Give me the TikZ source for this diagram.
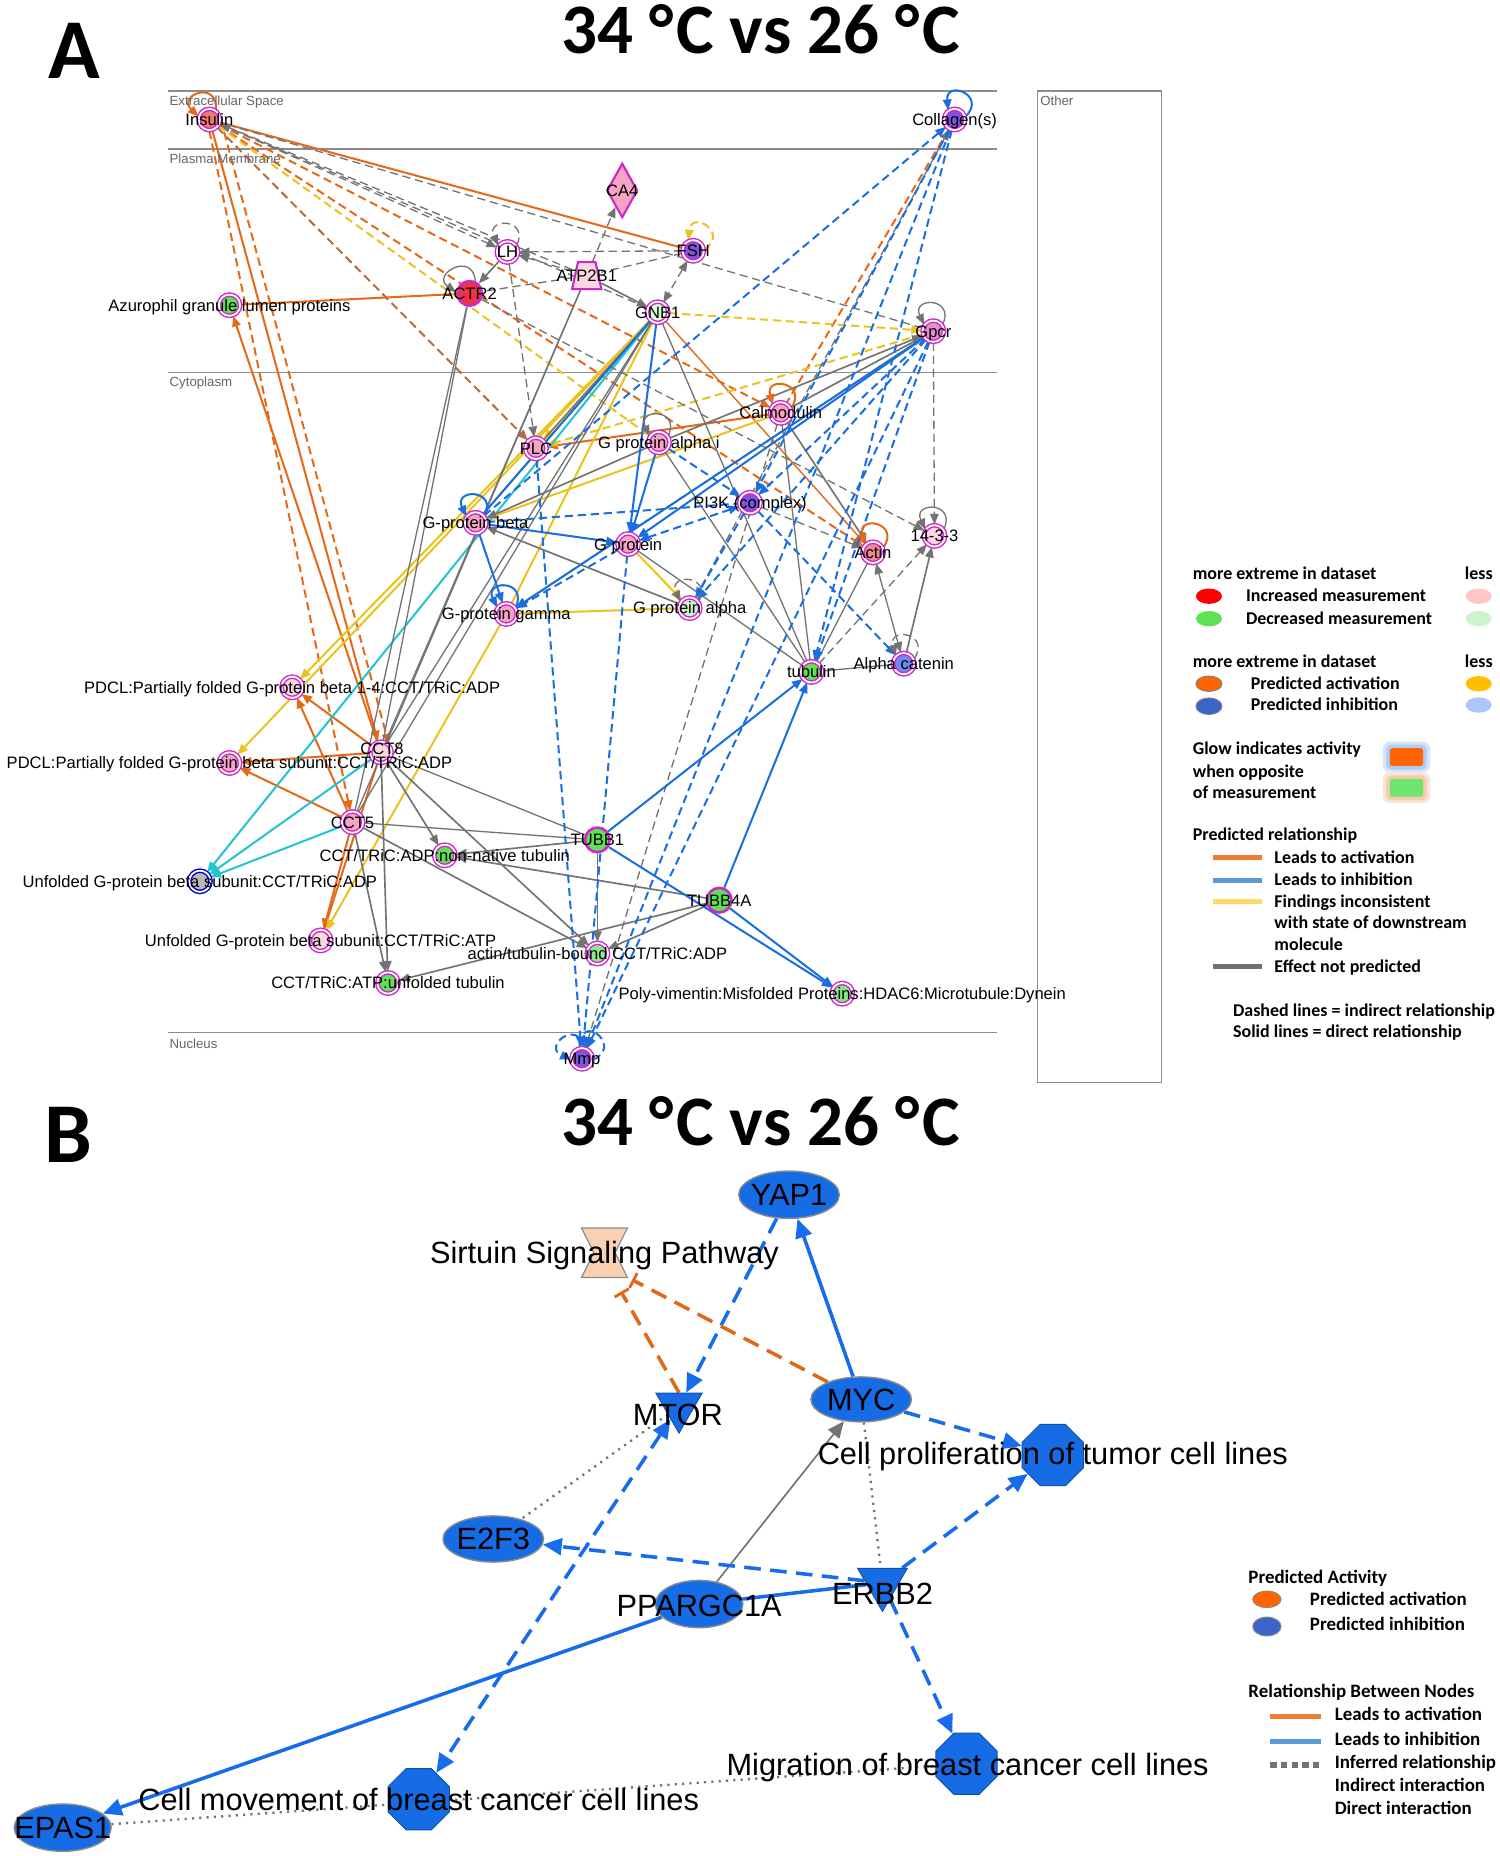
\documentclass[tikz,border=0pt]{standalone}
\usepackage{fontspec}
\setmainfont{Liberation Sans}
\newfontfamily\calfont{Carlito}
\usetikzlibrary{arrows.meta,shapes.geometric,calc}
\pgfdeclarelayer{bg}
\pgfdeclarelayer{edges}
\pgfsetlayers{bg,edges,main}
\definecolor{mag}{RGB}{205,40,200}
\definecolor{cor}{RGB}{230,105,25}
\definecolor{cbl}{RGB}{25,110,225}
\definecolor{cye}{RGB}{235,195,30}
\definecolor{cgr}{RGB}{115,115,115}
\definecolor{ccy}{RGB}{35,195,210}
\definecolor{fpink}{RGB}{245,165,195}
\definecolor{flpink}{RGB}{250,215,225}
\definecolor{fred}{RGB}{240,50,70}
\definecolor{fgreen}{RGB}{95,225,85}
\definecolor{flgreen}{RGB}{205,242,205}
\definecolor{fpurp}{RGB}{125,85,225}
\definecolor{fsalm}{RGB}{238,120,110}
\definecolor{fmagl}{RGB}{235,140,210}
\definecolor{fblue}{RGB}{110,140,240}
\definecolor{bfill}{RGB}{22,108,228}
\definecolor{bedge}{RGB}{22,108,235}
\definecolor{bor}{RGB}{222,105,25}
\definecolor{peach}{RGB}{250,208,178}
\definecolor{lgor}{RGB}{237,125,49}
\definecolor{lgbl}{RGB}{91,155,213}
\definecolor{lgye}{RGB}{255,217,102}
\definecolor{lggr}{RGB}{118,113,113}
\tikzset{
  gn/.style={circle, minimum size=9pt, inner sep=0pt, draw=mag, line width=0.6pt, double=white, double distance=0.75pt, fill=#1},
  gs/.style={circle, minimum size=10.4pt, inner sep=0pt, draw=mag, line width=1.1pt, fill=#1},
  lab/.style={font=\fontsize{7}{8}\selectfont, inner sep=0pt, text height=5pt, text depth=0pt},
  zone/.style={font=\fontsize{5.6}{6}\selectfont, text=black!60, anchor=west, inner sep=0pt, text height=4pt, text depth=0pt},
  ah/.style={-{Triangle[length=4.5pt,width=3.6pt]}},
  ahh/.style={{Triangle[length=4.5pt,width=3.6pt]}-{Triangle[length=4.5pt,width=3.6pt]}},
  dsh/.style={dash pattern=on 3.5pt off 2pt},
  eo/.style={draw=cor, line width=0.85pt},
  eb/.style={draw=cbl, line width=0.85pt},
  ey/.style={draw=cye, line width=0.85pt},
  eg/.style={draw=cgr, line width=0.55pt},
  ec/.style={draw=ccy, line width=0.85pt},
  frame/.style={draw=black!45, line width=0.6pt},
  bell/.style={ellipse, fill=bfill, draw=black!45, line width=0.6pt, inner sep=0pt},
  boct/.style={regular polygon, regular polygon sides=8, fill=bfill, draw=bfill!75!black, line width=0.4pt, minimum size=28pt, inner sep=0pt},
  btri/.style={regular polygon, regular polygon sides=3, shape border rotate=180, fill=bfill, draw=bfill!75!black, line width=0.4pt, inner sep=0pt},
  blab/.style={font=\fontsize{13}{14}\selectfont, inner sep=0pt, text height=9.3pt, text depth=0pt},
  bb/.style={draw=bedge, line width=1.5pt},
  bbd/.style={draw=bedge, line width=1.5pt, dash pattern=on 7pt off 4pt},
  bo/.style={draw=bor, line width=1.5pt, dash pattern=on 7pt off 4pt},
  bg/.style={draw=black!55, line width=0.7pt},
  bdot/.style={draw=black!55, line width=1pt, dash pattern=on 0.9pt off 2.2pt},
  btip/.style={-{Triangle[length=8pt,width=7pt]}},
  btipg/.style={-{Triangle[length=7pt,width=6pt]}},
  bboth/.style={{Triangle[length=8pt,width=7pt]}-{Triangle[length=8pt,width=7pt]}},
  bbar/.style={-{Bar[width=7pt,line width=1.2pt]}},
  lga/.style={font=\calfont\bfseries\fontsize{7.6}{9}\selectfont, anchor=west, inner sep=0pt, text height=4.9pt, text depth=0pt},
  lgb/.style={font=\calfont\bfseries\fontsize{8}{9}\selectfont, anchor=west, inner sep=0pt, text height=5.2pt, text depth=0pt},
  ttl/.style={font=\calfont\bfseries\fontsize{30}{33}\selectfont, inner sep=0pt, text height=19.5pt, text depth=0pt},
  plab/.style={font=\calfont\bfseries\fontsize{36}{40}\selectfont, inner sep=0pt, text height=23pt, text depth=0pt},
}
\newcommand\myloop[3]{%
  \pgfmathtruncatemacro\la{mod(#3-55+360,360)}\pgfmathtruncatemacro\lb{mod(#3+55,360)}%
  \pgfmathtruncatemacro\lc{#3-25}\pgfmathtruncatemacro\ld{#3+25}%
  \draw[#2] (#1.\la) .. controls +(\lc:13pt) and +(\ld:13pt) .. (#1.\lb);}
\newcommand\degc{°\kern1.2pt C}
\begin{document}
\begin{tikzpicture}[x=0.5pt,y=-0.5pt]
\begin{pgfonlayer}{bg}
\fill[white] (0,0) rectangle (1268,1569);
\end{pgfonlayer}
\useasboundingbox (0,0) rectangle (1268,1569);

% ---------------- titles
\node[plab] (pa) at (63,43) {A};
\node[ttl] (ta) at (643,26) {34 \degc{} vs 26 \degc};
\node[plab] (pb) at (58,960) {B};
\node[ttl] (tb) at (643,949) {34 \degc{} vs 26 \degc};

% ---------------- panel A nodes
\node[gn=fsalm] (ins) at (177,101) {};
\node[gn=fpurp] (col) at (807,101) {};
\node[diamond, draw=mag, line width=0.9pt, fill=fpink, minimum width=13pt, minimum height=23pt, inner sep=0pt] (ca4) at (526,161) {};
\node[gn=fpurp] (fsh) at (586,212) {};
\node[gn=white] (lh) at (429,213) {};
\node[minimum width=12pt, minimum height=11pt, inner sep=0pt] (atp) at (496,233) {};
\filldraw[draw=mag, line width=0.9pt, fill=flpink] ($(atp.north west)+(2.5pt,0pt)$) -- ($(atp.north east)+(-2.5pt,0pt)$) -- (atp.south east) -- (atp.south west) -- cycle;
\node[gs=fred] (actr) at (397,248) {};
\node[gn=white!85!green] (gnb) at (556,264) {};
\node[gn=fgreen] (azu) at (194,258) {};
\node[gn=fmagl] (gpcr) at (789,280) {};
\node[gn=fpink] (calm) at (660,349) {};
\node[gn=fpink] (plc) at (453,379) {};
\node[gn=fpink] (gpai) at (557,374) {};
\node[gn=fpurp] (pi3k) at (634,425) {};
\node[gn=fpink] (gpb) at (402,442) {};
\node[gn=flpink] (p1433) at (790,453) {};
\node[gn=fsalm!60!fpink] (actin) at (738,467) {};
\node[gn=fpink] (gp) at (531,460) {};
\node[gn=fpink] (gpg) at (428,519) {};
\node[gn=flgreen] (gpa) at (583,514) {};
\node[gn=fgreen] (tub) at (686,568) {};
\node[gn=fblue] (acat) at (764,561) {};
\node[gn=flpink] (pdcl14) at (247,581) {};
\node[gn=fpink] (pdcls) at (194,645) {};
\node[gn=flpink] (cct8) at (322,636) {};
\node[gn=fpink] (cct5) at (298,695) {};
\node[gs=fgreen] (tubb1) at (505,710) {};
\node[gn=fgreen] (ccta) at (376,723) {};
\node[gn=gray!55, draw=blue!75!black] (ugadp) at (169,745) {};
\node[gs=fgreen] (tubb4a) at (608,761) {};
\node[gn=flpink] (ugatp) at (271,795) {};
\node[gn=fgreen!55!flgreen] (atb) at (505,806) {};
\node[gn=fgreen] (cctu) at (328,831) {};
\node[gn=fgreen!65!flgreen] (poly) at (712,840) {};
\node[gn=fpurp] (mmp) at (492,895) {};

% panel A labels
\node[lab] at (ins) {Insulin};
\node[lab] at (col) {Collagen(s)};
\node[lab] at (ca4) {CA4};
\node[lab] at (fsh) {FSH};
\node[lab] at (lh) {LH};
\node[lab] at (atp) {ATP2B1};
\node[lab] at (actr) {ACTR2};
\node[lab] at (gnb) {GNB1};
\node[lab] at (azu) {Azurophil granule lumen proteins};
\node[lab] at (gpcr) {Gpcr};
\node[lab] at (calm) {Calmodulin};
\node[lab] at (plc) {PLC};
\node[lab] at (gpai) {G protein alpha i};
\node[lab] at (pi3k) {PI3K (complex)};
\node[lab] at (gpb) {G-protein beta};
\node[lab] at (p1433) {14-3-3};
\node[lab] at (actin) {Actin};
\node[lab] at (gp) {G protein};
\node[lab] at (gpg) {G-protein gamma};
\node[lab] at (gpa) {G protein alpha};
\node[lab] at (tub) {tubulin};
\node[lab] at (acat) {Alpha catenin};
\node[lab] at (pdcl14) {PDCL:Partially folded G-protein beta 1-4:CCT/TRiC:ADP};
\node[lab] at (pdcls) {PDCL:Partially folded G-protein beta subunit:CCT/TRiC:ADP};
\node[lab] at (323,633) {CCT8};
\node[lab] at (cct5) {CCT5};
\node[lab] at (tubb1) {TUBB1};
\node[lab] at (ccta) {CCT/TRiC:ADP:non-native tubulin};
\node[lab] at (ugadp) {Unfolded G-protein beta subunit:CCT/TRiC:ADP};
\node[lab] at (tubb4a) {TUBB4A};
\node[lab] at (ugatp) {Unfolded G-protein beta subunit:CCT/TRiC:ATP};
\node[lab] at (atb) {actin/tubulin-bound CCT/TRiC:ADP};
\node[lab] at (cctu) {CCT/TRiC:ATP:unfolded tubulin};
\node[lab] at (poly) {Poly-vimentin:Misfolded Proteins:HDAC6:Microtubule:Dynein};
\node[lab] at (mmp) {Mmp};

% zone labels
\node[zone] (zex) at (143,85) {Extracellular Space};
\node[zone] (zpm) at (143,134) {Plasma Membrane};
\node[zone] (zcy) at (143,323) {Cytoplasm};
\node[zone] (znu) at (143,882) {Nucleus};
\node[zone] (zot) at (879,85) {Other};

\begin{pgfonlayer}{edges}
% frame
\draw[frame] (142,77) -- (843,77);
\draw[frame] (142,126) -- (843,126);
\draw[frame] (142,315) -- (843,315);
\draw[frame] (142,873) -- (843,873);
\draw[frame] (877,77) rectangle (982,915);

% orange
\draw[eo] (ins) -- (fsh);
\draw[eo,dsh,ah] (ins) -- (calm);
\draw[eo,dsh,ah] (ins) -- (actin);
\draw[eo,dsh,ah,draw=cor!60!cgr] (ins) -- (plc);
\draw[eo,ah] (ins) -- (cct8);
\draw[eo,dsh,ah] (ins.south) -- (cct5);
\draw[eo,dsh,ah] (ins.east) -- (cct8.north east);
\draw[eo,ah] (cct8) -- (azu);
\draw[eo] (actr) -- (azu);
\draw[eo,ah] (cct8) -- (pdcl14);
\draw[eo,ah] (cct5) -- (pdcl14);
\draw[eo,ah] (cct5) -- (pdcls);
\draw[eo,ah] (cct8) -- (pdcls);
\draw[eo,ah] (cct8) -- (ugatp);
\draw[eo,ah] (cct5) -- (ugatp);
\draw[eo,ah] (calm) -- (plc);
\draw[eo,dsh] (col) -- (calm);
\draw[eo,ah,line width=0.6pt] (gnb) -- (actin);

% yellow
\draw[ey,ah] (gnb) -- (pdcl14);
\draw[ey,ah] (gnb) -- (pdcls);
\draw[ey,ah] (gpg) -- (ugatp);
\draw[ey,ah] (gnb) -- (plc);
\draw[ey] (gnb) -- (gpg);
\draw[ey] (gnb) -- (gpb);
\draw[ey] (gpg) -- (gpa);
\draw[ey,ah] (gp) -- (gpa);
\draw[ey,dsh,ah] (gnb) -- (gpcr);
\draw[ey,dsh,ah] (gpcr) -- (plc);
\draw[ey,dsh] (ins) -- (gpai);
\draw[ey,ah] (calm) -- (gpb);
\draw[ey,dsh,ah] (gpcr) -- (gpg);

% cyan
\draw[ec,ah] (gnb) -- (ugadp);
\draw[ec,ah] (cct8) -- (ugadp);
\draw[ec,ah] (cct5) -- (ugadp);

% gray solid
\foreach \a/\b in {cct8/actr,cct5/actr,cct8/atp,cct5/atp,cct8/gnb,cct5/gnb,cct8/tubb1,cct5/tubb1,gnb/plc,gnb/tub,gpai/tub,gp/tub,calm/tub,actin/tub,acat/tub}
  \draw[eg] (\a) -- (\b);
\foreach \a/\b in {cct8/ccta,cct8/atb,cct5/cctu,cct8/cctu,cct5/atb,tubb1/ccta,tubb4a/ccta,tubb4a/cctu,tubb4a/atb,tubb1/atb,atp/gnb,lh/actr,calm/actin,calm/gpcr,gpai/gpcr,gpai/gpb,gpa/gpb,acat/p1433}
  \draw[eg,ah,line width=0.7pt] (\a) -- (\b);
\draw[eg,ahh] (actin) -- (acat);

% gray dashed
\foreach \a/\b in {ins/lh,gnb/ins,atp/ca4,fsh/lh,atp/lh,lh/plc,pi3k/actin,tub/p1433,actr/p1433,calm/mmp,gpa/col,gpcr/p1433}
  \draw[eg,dsh,ah] (\a) -- (\b);
\foreach \a/\b in {atp/ins,gpcr/ins,fsh/atp,atp/actr}
  \draw[eg,dsh] (\a) -- (\b);
\draw[eg,dsh,ahh] (fsh) -- (gnb);

% blue solid
\foreach \a/\b in {tubb1/tub,tubb4a/tub,tubb1/poly,tubb4a/poly,gnb/gp,gpb/gpg,gpb/gp,gpai/gp,gpcr/gpg,gpcr/gp}
  \draw[eb,ah] (\a) -- (\b);
\draw[eb] (gnb) -- (gpb);

% blue dashed
\foreach \a/\b in {plc/mmp,gp/mmp,gpcr/mmp,col/mmp,col/tub,col/pi3k,gpb/col,gpai/pi3k,pi3k/acat,pi3k/gpa,gpcr/pi3k,gpcr/gpa,gpcr/tub,gp/gpg}
  \draw[eb,dsh,ah] (\a) -- (\b);
\draw[eb,dsh] (gpb) -- (pi3k);
\draw[eb,dsh,ahh] (gp) -- (pi3k);

% self loops
\myloop{ins}{eo,ah}{110}
\myloop{col}{eb,ah}{70}
\myloop{lh}{eg,dsh,ah}{90}
\myloop{fsh}{ey,dsh,ah}{60}
\myloop{actr}{eg,ah}{120}
\myloop{gpcr}{eg,ah}{90}
\myloop{calm}{eo,ah}{80}
\myloop{gpai}{eg,ah}{90}
\myloop{gpb}{eb,ah}{90}
\myloop{gpg}{eb,ah}{90}
\myloop{actin}{eo,ah}{80}
\myloop{p1433}{eg,ah}{90}
\myloop{gpa}{eg,dsh,ah}{90}
\myloop{acat}{eg,dsh,ah}{80}
\myloop{mmp}{eb,dsh,ah}{130}
\myloop{mmp}{eb,dsh,ah}{50}
\end{pgfonlayer}

% ---------------- legend A
\node[lga] (la1) at (1008,485) {more extreme in dataset};
\node[lga] (la2) at (1238,485) {less};
\node[ellipse, fill=red, minimum width=11pt, minimum height=6.5pt, inner sep=0pt] (le1) at (1022,504) {};
\node[lga] (la3) at (1053,504) {Increased measurement};
\node[ellipse, fill=red!22, minimum width=11pt, minimum height=6.5pt, inner sep=0pt] (le2) at (1250,504) {};
\node[ellipse, fill=fgreen, minimum width=11pt, minimum height=6.5pt, inner sep=0pt] (le3) at (1022,523) {};
\node[lga] (la4) at (1053,523) {Decreased measurement};
\node[ellipse, fill=flgreen, minimum width=11pt, minimum height=6.5pt, inner sep=0pt] (le4) at (1250,523) {};
\node[lga] (la5) at (1008,559) {more extreme in dataset};
\node[lga] (la6) at (1238,559) {less};
\node[ellipse, fill={rgb,255:red,255;green,100;blue,0}, draw=black!50, line width=0.4pt, minimum width=11pt, minimum height=6.5pt, inner sep=0pt] (le5) at (1022,578) {};
\node[lga] (la7) at (1057,578) {Predicted activation};
\node[ellipse, fill={rgb,255:red,255;green,190;blue,0}, minimum width=11pt, minimum height=6.5pt, inner sep=0pt] (le6) at (1250,578) {};
\node[ellipse, fill={rgb,255:red,60;green,100;blue,200}, draw=black!50, line width=0.4pt, minimum width=11pt, minimum height=7pt, inner sep=0pt] (le7) at (1022,597) {};
\node[lga] (la8) at (1057,596) {Predicted inhibition};
\node[ellipse, fill={rgb,255:red,170;green,200;blue,245}, minimum width=11pt, minimum height=6.5pt, inner sep=0pt] (le8) at (1250,596) {};
\node[lga] (la9) at (1008,633) {Glow indicates activity};
\node[lga] (la10) at (1008,652) {when opposite};
\node[lga] (la11) at (1008,670) {of measurement};
\node[fill=cbl!18, rounded corners=3pt, minimum width=20pt, minimum height=13pt, inner sep=0pt] (g1a) at (1189,640) {};
\node[fill=cbl!35, rounded corners=2pt, minimum width=17pt, minimum height=10.5pt, inner sep=0pt] (g1b) at (1189,640) {};
\node[fill={rgb,255:red,255;green,100;blue,0}, rounded corners=1pt, minimum width=14pt, minimum height=7.5pt, inner sep=0pt] (g1) at (1189,640) {};
\node[fill=cor!18, rounded corners=3pt, minimum width=20pt, minimum height=13pt, inner sep=0pt] (g2a) at (1189,666) {};
\node[fill=cor!35, rounded corners=2pt, minimum width=17pt, minimum height=10.5pt, inner sep=0pt] (g2b) at (1189,666) {};
\node[fill={rgb,255:red,110;green,230;blue,110}, rounded corners=1pt, minimum width=14pt, minimum height=7.5pt, inner sep=0pt] (g2) at (1189,666) {};
\node[lga] (la12) at (1008,706) {Predicted relationship};
\coordinate (ls1a) at (1025,725); \coordinate (ls1b) at (1067,725);
\coordinate (ls2a) at (1025,744); \coordinate (ls2b) at (1067,744);
\coordinate (ls3a) at (1025,762); \coordinate (ls3b) at (1067,762);
\coordinate (ls4a) at (1025,817); \coordinate (ls4b) at (1067,817);
\draw[lgor, line width=2.2pt] (ls1a) -- (ls1b);
\draw[lgbl, line width=2.2pt] (ls2a) -- (ls2b);
\draw[lgye, line width=2.2pt] (ls3a) -- (ls3b);
\draw[lggr, line width=2.2pt] (ls4a) -- (ls4b);
\node[lga] (la13) at (1077,725) {Leads to activation};
\node[lga] (la14) at (1077,744) {Leads to inhibition};
\node[lga] (la15) at (1077,762) {Findings inconsistent};
\node[lga] (la16) at (1077,780) {with state of downstream};
\node[lga] (la17) at (1077,799) {molecule};
\node[lga] (la18) at (1077,817) {Effect not predicted};
\node[lga] (la19) at (1042,854) {Dashed lines = indirect relationship};
\node[lga] (la20) at (1042,872) {Solid lines = direct relationship};

% ---------------- panel B nodes
\node[bell, minimum width=42.5pt, minimum height=20pt] (yap) at (667,1010) {};
\node[minimum width=19pt, minimum height=20.5pt, inner sep=0pt] (sirt) at (511,1059) {};
\filldraw[fill=peach, draw=black!45, line width=0.5pt] (sirt.north west) -- (sirt.north east) -- ($(sirt.center)+(4.5pt,0pt)$) -- (sirt.south east) -- (sirt.south west) -- ($(sirt.center)+(-4.5pt,0pt)$) -- cycle;
\node[btri, minimum size=22.5pt] (mtor) at (574,1189) {};
\node[bell, minimum width=42.5pt, minimum height=19pt] (myc) at (728,1183) {};
\node[boct] (cprol) at (890,1230) {};
\node[bell, minimum width=42.5pt, minimum height=19.5pt] (e2f3) at (417,1301) {};
\node[btri, minimum size=24.2pt] (erbb2) at (746,1338) {};
\node[bell, minimum width=37pt, minimum height=20pt] (ppar) at (591,1356) {};
\node[boct] (migr) at (817,1491) {};
\node[boct] (cmov) at (354,1521) {};
\node[bell, minimum width=41pt, minimum height=20pt] (epas) at (53,1545) {};

\node[blab] at (yap) {YAP1};
\node[blab] at (511,1059) {Sirtuin Signaling Pathway};
\node[blab] at (573,1196) {MTOR};
\node[blab] at (myc) {MYC};
\node[blab] at (890,1229) {Cell proliferation of tumor cell lines};
\node[blab] at (e2f3) {E2F3};
\node[blab] at (746,1347) {ERBB2};
\node[blab] at (591,1357) {PPARGC1A};
\node[blab] at (818,1492) {Migration of breast cancer cell lines};
\node[blab] at (354,1521) {Cell movement of breast cancer cell lines};
\node[blab] at (epas) {EPAS1};

\begin{pgfonlayer}{edges}
\draw[bb,btip] (myc) -- (yap);
\draw[bbd,btip] (yap) -- (mtor);
\draw[bo,bbar] (mtor.north) -- ($(sirt.south)+(7pt,-6pt)$);
\draw[bo,bbar] (myc) -- ($(sirt.south east)+(2pt,-1pt)$);
\draw[bbd,btip] (myc) -- (cprol);
\draw[bbd,btip] (erbb2) -- (cprol);
\draw[bg,btipg] (ppar) -- (myc);
\draw[bdot] (myc) -- (erbb2);
\draw[bdot] (mtor) -- (e2f3);
\draw[bbd,btip] (erbb2) -- (e2f3);
\draw[bb] (ppar) -- (erbb2);
\draw[bb,btip] (ppar) -- (epas);
\draw[bbd,bboth] (mtor) -- (cmov);
\draw[bbd,btip] (erbb2) -- (migr);
\draw[bdot] (epas) -- (migr);
\end{pgfonlayer}

% ---------------- legend B
\node[lgb] (lb1) at (1055,1333) {Predicted Activity};
\node[ellipse, fill={rgb,255:red,255;green,100;blue,0}, draw=black!45, line width=0.4pt, minimum width=12pt, minimum height=7pt, inner sep=0pt] (lbe1) at (1071,1352) {};
\node[lgb] (lb2) at (1107,1352) {Predicted activation};
\node[ellipse, fill={rgb,255:red,60;green,100;blue,200}, draw=black!45, line width=0.4pt, minimum width=12pt, minimum height=8pt, inner sep=0pt] (lbe2) at (1071,1375) {};
\node[lgb] (lb3) at (1107,1373) {Predicted inhibition};
\node[lgb] (lb4) at (1055,1430) {Relationship Between Nodes};
\coordinate (lr1a) at (1074,1451); \coordinate (lr1b) at (1117,1451);
\coordinate (lr2a) at (1074,1472); \coordinate (lr2b) at (1117,1472);
\coordinate (lr3a) at (1074,1492); \coordinate (lr3b) at (1117,1492);
\draw[lgor, line width=2.2pt] (lr1a) -- (lr1b);
\draw[lgbl, line width=2.2pt] (lr2a) -- (lr2b);
\draw[black!55, line width=2.4pt, dash pattern=on 2.6pt off 1.9pt] (lr3a) -- (lr3b);
\node[lgb] (lb5) at (1128,1449) {Leads to activation};
\node[lgb] (lb6) at (1128,1470) {Leads to inhibition};
\node[lgb] (lb7) at (1128,1490) {Inferred relationship};
\node[lgb] (lb8) at (1128,1509) {Indirect interaction};
\node[lgb] (lb9) at (1128,1529) {Direct interaction};
\end{tikzpicture}
\end{document}
